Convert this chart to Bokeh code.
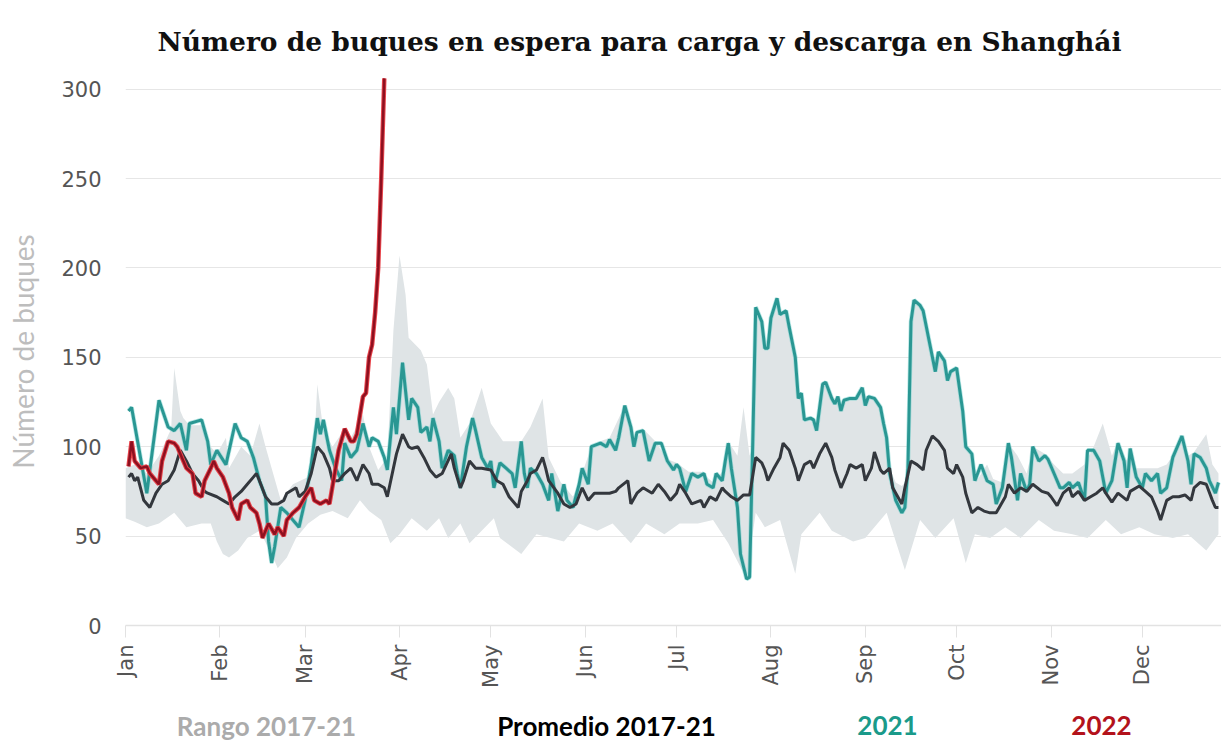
import math
from bokeh.plotting import figure
from bokeh.models import FixedTicker, Range1d, ColumnDataSource
from bokeh.layouts import column
from bokeh.core.properties import value
from bokeh.embed import file_html
from bokeh.resources import INLINE

# ---------------- data (day of year, value) ----------------
month_names = ["Jan", "Feb", "Mar", "Apr", "May", "Jun", "Jul", "Aug", "Sep", "Oct", "Nov", "Dec"]
month_days = [0, 31, 59, 90, 120, 151, 181, 212, 243, 273, 304, 334]

# Rango 2017-21: upper envelope
range_hi_days = [0, 3, 7, 11, 15, 16, 18, 19, 21, 25, 28, 30, 33, 34, 38, 41, 44, 46, 48, 51, 55, 60, 62, 63, 65,
                 68, 72, 74, 78, 80, 83, 86, 88, 90, 92, 93, 97, 99, 101, 103, 106, 108, 110, 113, 117, 120, 124,
                 130, 133, 137, 139, 143, 147, 149, 153, 156, 159, 164, 167, 170, 174, 178, 181, 185, 189, 193,
                 196, 198, 201, 203, 205, 206, 207, 209, 210, 211, 212, 214, 215, 217, 218, 220, 221, 222, 223,
                 225, 226, 227, 229, 230, 232, 233, 234, 235, 236, 238, 239, 240, 242, 243, 244, 246, 248, 249,
                 250, 251, 253, 255, 256, 257, 258, 259, 261, 262, 264, 266, 267, 269, 270, 271, 273, 275, 276,
                 278, 280, 283, 285, 288, 290, 293, 296, 298, 302, 305, 308, 311, 315, 318, 321, 324, 326, 329,
                 330, 332, 335, 339, 342, 344, 347, 349, 351, 355, 357, 359]
range_hi_vals = [88, 90, 85, 95, 110, 144, 120, 116, 112, 112, 100, 96, 105, 88, 100, 95, 113, 100, 88, 70, 79, 83,
                 100, 135, 109, 100, 110, 105, 118, 100, 87, 94, 165, 207, 185, 161, 154, 146, 118, 125, 133, 127,
                 105, 113, 133, 113, 103, 103, 111, 127, 94, 80, 72, 80, 100, 103, 105, 123, 102, 110, 103, 93, 91,
                 86, 86, 80, 86, 103, 95, 122, 95, 100, 178, 170, 155, 155, 172, 183, 174, 176, 167, 150, 127, 130,
                 115, 116, 115, 109, 135, 136, 127, 124, 128, 120, 126, 127, 127, 127, 133, 123, 128, 127, 122,
                 113, 105, 88, 80, 78, 80, 90, 170, 182, 179, 176, 159, 142, 153, 148, 137, 142, 144, 120, 100, 96,
                 82, 90, 82, 80, 102, 95, 85, 100, 96, 90, 85, 85, 90, 100, 113, 95, 103, 92, 100, 88, 88, 88, 90,
                 95, 106, 95, 97, 107, 90, 85]

# Rango 2017-21: lower envelope
range_lo_days = [0, 3, 7, 11, 16, 20, 25, 28, 30, 32, 34, 37, 40, 44, 48, 50, 53, 56, 60, 64, 68, 73, 77, 80, 84,
                 87, 90, 94, 99, 103, 106, 110, 113, 117, 121, 123, 130, 135, 144, 149, 155, 160, 166, 171, 177,
                 182, 188, 193, 198, 204, 207, 210, 215, 220, 222, 228, 232, 239, 243, 250, 256, 261, 266, 272,
                 276, 279, 284, 289, 294, 300, 305, 311, 316, 322, 327, 333, 338, 344, 349, 355, 359]
range_lo_vals = [60, 58, 55, 57, 63, 55, 57, 57, 47, 40, 38, 42, 49, 53, 40, 32, 38, 49, 57, 62, 64, 60, 70, 64, 59,
                 46, 51, 60, 53, 60, 49, 57, 46, 53, 60, 49, 40, 51, 47, 57, 53, 57, 46, 57, 51, 57, 57, 59, 46,
                 26, 63, 55, 59, 29, 51, 63, 53, 47, 49, 63, 31, 59, 49, 60, 35, 51, 49, 55, 49, 59, 53, 51, 49,
                 59, 51, 55, 51, 49, 51, 42, 51]

# Promedio 2017-21
avg_days = [1, 2, 3, 4, 6, 8, 10, 12, 14, 16, 18, 20, 22, 24, 26, 27, 30, 32, 34, 36, 38, 40, 42, 43, 44, 46, 48,
            50, 52, 53, 56, 57, 59, 61, 63, 65, 67, 68, 70, 72, 74, 76, 78, 80, 81, 83, 85, 86, 88, 89, 91, 93,
            94, 96, 98, 100, 102, 104, 107, 108, 110, 111, 113, 115, 117, 120, 122, 124, 126, 129, 130, 132, 133,
            135, 137, 138, 139, 142, 144, 146, 148, 150, 152, 154, 156, 159, 161, 162, 165, 166, 168, 170, 173,
            175, 177, 179, 181, 182, 184, 186, 189, 190, 192, 194, 196, 197, 199, 201, 203, 205, 207, 209, 210,
            211, 213, 215, 216, 218, 220, 221, 223, 225, 226, 228, 230, 232, 233, 235, 237, 238, 240, 242, 243,
            245, 246, 248, 249, 251, 252, 255, 256, 258, 260, 262, 263, 265, 267, 269, 270, 272, 273, 275, 276,
            278, 280, 282, 284, 286, 289, 290, 292, 294, 296, 298, 301, 303, 304, 306, 308, 310, 311, 313, 315,
            317, 319, 321, 322, 324, 326, 329, 330, 333, 335, 337, 339, 340, 342, 344, 346, 348, 350, 351, 353,
            355, 357, 358, 359]
avg_vals = [83, 85, 81, 83, 70, 66, 74, 79, 81, 87, 98, 92, 85, 81, 75, 74, 72, 70, 68, 72, 75, 79, 83, 85, 81, 72,
            68, 68, 70, 74, 77, 72, 75, 85, 100, 96, 88, 81, 81, 85, 88, 81, 90, 85, 79, 79, 77, 72, 88, 96, 107,
            100, 99, 100, 94, 87, 83, 85, 96, 88, 77, 81, 92, 88, 88, 87, 81, 79, 72, 66, 75, 81, 85, 87, 94, 88,
            81, 74, 68, 66, 68, 77, 70, 74, 74, 74, 75, 77, 81, 68, 74, 77, 74, 79, 75, 70, 74, 79, 74, 68, 70,
            66, 72, 70, 77, 75, 72, 70, 73, 73, 94, 91, 87, 81, 88, 94, 102, 98, 88, 81, 90, 92, 88, 96, 102, 94,
            87, 77, 85, 90, 88, 90, 81, 88, 97, 87, 85, 88, 77, 68, 77, 92, 90, 87, 98, 106, 103, 98, 88, 85, 90,
            83, 74, 63, 66, 64, 63, 63, 72, 79, 74, 77, 75, 79, 75, 74, 72, 67, 74, 77, 72, 75, 70, 72, 74, 77,
            74, 69, 74, 70, 75, 78, 75, 72, 64, 59, 70, 72, 72, 73, 70, 77, 80, 79, 70, 66, 66]

# 2021
y2021_days = [1, 2, 7, 11, 14, 16, 18, 20, 21, 25, 27, 28, 30, 33, 36, 38, 40, 42, 44, 46, 47, 48, 49, 51, 53, 57,
              59, 61, 63, 64, 65, 67, 69, 71, 72, 74, 76, 78, 80, 81, 83, 85, 86, 88, 89, 91, 93, 94, 96, 97, 99,
              100, 101, 103, 104, 106, 108, 109, 110, 112, 114, 115, 117, 119, 120, 121, 123, 125, 127, 128, 130,
              131, 132, 133, 135, 137, 139, 140, 142, 144, 145, 147, 149, 150, 152, 153, 156, 158, 159, 161, 162,
              164, 166, 167, 168, 170, 172, 174, 176, 178, 180, 181, 182, 184, 186, 188, 190, 191, 193, 194, 196,
              197, 198, 199, 201, 202, 204, 205, 206, 207, 209, 210, 211, 212, 214, 215, 217, 218, 220, 221, 222,
              223, 225, 226, 227, 229, 230, 232, 233, 234, 235, 236, 238, 239, 240, 242, 243, 244, 246, 248, 249,
              250, 251, 253, 255, 256, 257, 258, 259, 261, 262, 264, 266, 267, 269, 270, 271, 273, 275, 276, 278,
              279, 281, 283, 285, 286, 288, 290, 291, 293, 294, 296, 297, 298, 300, 302, 303, 305, 307, 308, 310,
              311, 313, 315, 316, 318, 320, 322, 324, 326, 328, 329, 330, 332, 334, 335, 337, 339, 340, 342, 344,
              347, 349, 350, 351, 353, 355, 356, 358, 359]
y2021_vals = [120, 122, 74, 126, 111, 109, 113, 98, 113, 115, 103, 90, 98, 90, 113, 105, 103, 94, 81, 72, 47, 35,
              44, 66, 63, 55, 70, 90, 116, 107, 115, 98, 88, 81, 102, 94, 98, 113, 100, 105, 103, 94, 87, 122, 107,
              147, 115, 127, 122, 108, 111, 103, 116, 103, 88, 98, 95, 85, 77, 100, 116, 109, 94, 88, 92, 77, 91,
              88, 85, 77, 103, 85, 77, 88, 85, 79, 70, 85, 64, 79, 70, 66, 79, 88, 79, 100, 102, 100, 104, 98, 105,
              123, 111, 100, 108, 109, 92, 102, 102, 92, 87, 90, 88, 75, 85, 83, 85, 79, 77, 85, 81, 92, 102, 88,
              66, 40, 26, 27, 100, 178, 170, 155, 155, 172, 183, 174, 176, 167, 150, 127, 130, 115, 116, 115, 109,
              135, 136, 127, 124, 128, 120, 126, 127, 127, 127, 133, 123, 128, 127, 122, 113, 105, 85, 70, 63, 66,
              88, 170, 182, 179, 176, 159, 142, 153, 148, 137, 142, 144, 120, 100, 96, 81, 90, 81, 79, 68, 77,
              102, 94, 70, 85, 75, 79, 100, 92, 95, 93, 85, 77, 77, 80, 77, 80, 70, 98, 98, 92, 74, 81, 102, 92,
              77, 99, 83, 77, 85, 81, 85, 74, 77, 94, 106, 92, 79, 96, 94, 88, 81, 74, 80]

# 2022
y2022_days = [1, 2, 3, 5, 7, 8, 10, 11, 12, 14, 16, 17, 19, 20, 22, 23, 25, 26, 28, 29, 30, 32, 34, 35, 37, 38,
              40, 41, 43, 44, 45, 47, 49, 50, 52, 53, 55, 57, 59, 61, 62, 64, 66, 67, 69, 70, 72, 74, 75, 76, 78,
              79, 80, 81, 82, 83, 84, 85]
y2022_vals = [89, 103, 92, 88, 89, 85, 81, 79, 92, 103, 102, 100, 92, 88, 85, 74, 72, 81, 88, 92, 88, 83, 74, 66,
              59, 68, 70, 66, 63, 57, 49, 57, 51, 55, 50, 59, 63, 66, 72, 77, 70, 68, 70, 68, 88, 98, 110, 103,
              103, 107, 128, 130, 150, 157, 175, 200, 250, 306]

y_ticks = [0, 50, 100, 150, 200, 250, 300]

TITLE = "Número de buques en espera para carga y descarga en Shanghái"
Y_LABEL = "Número de buques"
legend_texts = ["Rango 2017-21", "Promedio 2017-21", "2021", "2022"]
legend_colors = ["#ababab", "#000000", "#1a9a8a", "#b3121b"]

# ---------------- main figure ----------------
W = 1221
H_MAIN, H_LEG = 708, 37
FL, FT, FB = 125, 77, 625
p = figure(width=W, height=H_MAIN, output_backend="svg", toolbar_location=None,
           x_range=Range1d(0, 360), y_range=Range1d(0, 306.5),
           min_border_left=FL, min_border_right=0, min_border_top=FT, min_border_bottom=H_MAIN - FB)
p.outline_line_color = None
p.background_fill_color = "white"
p.border_fill_color = "white"

# title
p.title.text = TITLE
p.title.align = "left"
p.title.offset = 32
p.title.standoff = 42
p.title.text_font = "DejaVu Serif"
p.title.text_font_style = "bold"
p.title.text_font_size = "26.5px"
p.title.text_color = "#111111"

# grid
p.xgrid.grid_line_color = None
p.ygrid.grid_line_color = "#e6e6e6"
p.ygrid.grid_line_width = 1.2
p.yaxis.ticker = FixedTicker(ticks=y_ticks)

# y axis
p.yaxis.axis_line_color = None
p.yaxis.major_tick_line_color = None
p.yaxis.minor_tick_line_color = None
p.yaxis.major_label_standoff = 18
p.yaxis.major_label_text_font = "DejaVu Sans"
p.yaxis.major_label_text_font_size = "21px"
p.yaxis.major_label_text_color = "#555555"
p.yaxis.axis_label = Y_LABEL
p.yaxis.axis_label_text_font = "Lato"
p.yaxis.axis_label_text_font_style = "normal"
p.yaxis.axis_label_text_font_size = "28px"
p.yaxis.axis_label_text_color = "#bdbdbd"
p.yaxis.axis_label_standoff = 18

# x axis
p.xaxis.ticker = FixedTicker(ticks=month_days)
p.xaxis.major_label_overrides = {d: m for d, m in zip(month_days, month_names)}
p.xaxis.major_label_orientation = math.pi / 2
p.xaxis.axis_line_color = "#e2e2e2"
p.xaxis.axis_line_width = 1.5
p.xaxis.major_tick_line_color = "#e2e2e2"
p.xaxis.major_tick_out = 12
p.xaxis.major_tick_in = 0
p.xaxis.minor_tick_line_color = None
p.xaxis.major_label_standoff = 7
p.xaxis.major_label_text_font = "DejaVu Sans"
p.xaxis.major_label_text_font_size = "21px"
p.xaxis.major_label_text_color = "#555555"

# range band
band_x = range_hi_days + range_lo_days[::-1]
band_y = range_hi_vals + range_lo_vals[::-1]
p.patch(band_x, band_y, fill_color="#dfe4e6", fill_alpha=1.0, line_color=None)

# 2021
p.line(y2021_days, y2021_vals, line_color="#6fd0cc", line_width=4.5, line_alpha=0.5)
p.line(y2021_days, y2021_vals, line_color="#2a9793", line_width=3)
# average
p.line(avg_days, avg_vals, line_color="#33373d", line_width=3)
# 2022
p.line(y2022_days, y2022_vals, line_color="#e8454c", line_width=4.5)
p.line(y2022_days, y2022_vals, line_color="#8e1020", line_width=2.5)

# ---------------- legend strip (its frame is aligned with the main frame) ----------------
leg = figure(width=W, height=H_LEG, output_backend="svg", toolbar_location=None,
             x_range=Range1d(FL, W), y_range=Range1d(0, H_LEG),
             min_border_left=FL, min_border_right=0, min_border_top=0, min_border_bottom=0)
leg.axis.visible = False
leg.grid.visible = False
leg.outline_line_color = None
leg_src = ColumnDataSource(dict(x=[266, 606, 887, 1101], y=[20, 20, 20, 20],
                                text=legend_texts, color=legend_colors))
leg.text(x="x", y="y", text="text", source=leg_src, text_color="color",
         text_align="center", text_baseline="alphabetic", text_font=value("Lato"),
         text_font_style="bold", text_font_size="26px")

layout = column(p, leg, spacing=0)
open("out.html", "w").write(file_html(layout, INLINE))
